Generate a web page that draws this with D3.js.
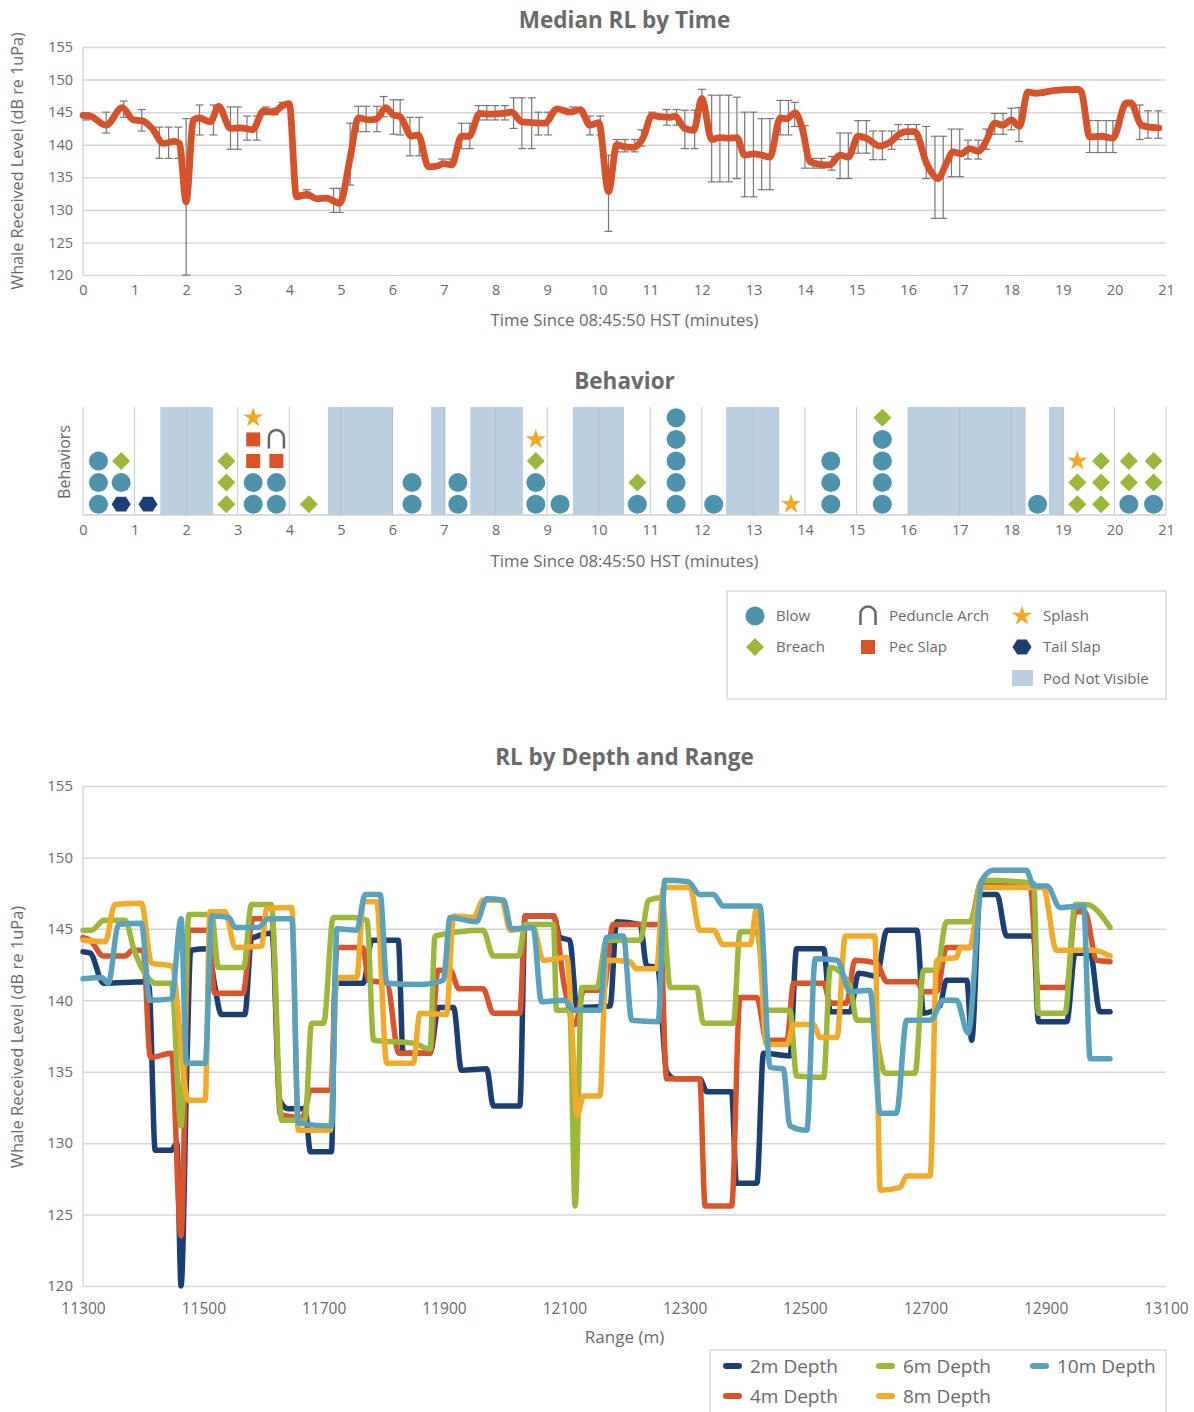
<!DOCTYPE html>
<html>
<head>
<meta charset="utf-8">
<script src="https://cdn.jsdelivr.net/npm/d3@7"></script>
<style>
  body { margin: 0; background: #fff; }
  text { font-family: "Open Sans", sans-serif; fill: #6a6a6a; }
</style>
</head>
<body>
<div id="wrapper"></div>
<script>
// ---- Median RL by Time: [minutes, dB] ----
const medianRL = [
  [0,144.5],[0.14,144.4],[0.45,143.0],[0.76,145.7],[0.98,143.8],[1.14,143.7],[1.34,142.5],[1.56,140.2],
  [1.77,140.5],[1.87,140.2],[2.0,131.2],[2.14,143.8],[2.26,144.1],[2.47,143.5],[2.63,145.9],[2.86,142.5],
  [3.05,142.6],[3.29,142.3],[3.5,145.2],[3.7,145.0],[3.87,146.0],[4.0,146.3],[4.14,132.0],[4.34,132.4],
  [4.53,131.7],[4.72,131.8],[4.98,131.0],[5.18,138.0],[5.34,144.1],[5.57,143.8],[5.7,144.0],[5.87,145.7],
  [6.01,144.6],[6.15,144.3],[6.37,141.3],[6.5,141.5],[6.7,136.6],[6.86,136.7],[6.99,137.1],[7.15,136.9],
  [7.34,141.3],[7.49,141.3],[7.69,144.8],[7.9,144.7],[8.15,144.8],[8.31,145.0],[8.51,143.5],[8.7,143.4],
  [8.96,143.3],[9.19,145.5],[9.45,145.0],[9.64,145.4],[9.83,143.0],[10.0,143.4],[10.19,132.8],[10.35,140.0],
  [10.48,139.7],[10.67,139.6],[10.87,141.2],[11.03,144.5],[11.19,144.3],[11.38,144.2],[11.48,144.4],[11.67,142.5],
  [11.84,142.2],[12.0,147.1],[12.19,140.8],[12.35,141.1],[12.52,141.0],[12.68,141.1],[12.83,138.4],[13.0,138.6],
  [13.16,138.4],[13.32,138.1],[13.52,144.1],[13.64,144.0],[13.81,144.9],[13.94,142.7],[14.1,137.4],[14.29,137.0],
  [14.48,136.9],[14.68,138.4],[14.84,138.1],[15.03,141.3],[15.19,141.0],[15.45,139.8],[15.65,140.4],[15.84,141.7],
  [15.97,142.0],[16.13,142.0],[16.36,137.1],[16.58,134.8],[16.74,137.1],[16.87,138.9],[17.03,138.6],[17.19,139.4],
  [17.36,139.0],[17.52,140.7],[17.68,143.3],[17.84,143.0],[18.0,143.8],[18.16,142.8],[18.32,148.1],[18.48,147.9],
  [18.81,148.3],[19.29,148.5],[19.36,148.1],[19.52,141.2],[19.74,141.3],[19.97,141.0],[20.23,146.4],[20.32,146.4],
  [20.52,143.0],[20.68,142.7],[20.86,142.6]
];

// error bars: [minutes, low, high]
const medianErr = [
  [0.06,143.8,144.9],[0.45,141.8,145.0],[0.79,144.2,146.7],[1.14,142.1,145.4],[1.48,137.9,142.7],[1.66,137.9,142.7],
  [1.85,137.9,142.7],[2.0,120,144.0],[2.26,141.5,146.1],[2.53,141.5,146.1],[2.86,139.3,145.8],[3.0,139.3,145.8],
  [3.18,140.7,144.4],[3.37,140.7,144.4],[3.55,144.6,145.8],[3.72,144.6,145.6],[3.87,145.8,146.5],[4.2,131.8,132.6],
  [4.34,131.8,133.1],[4.86,129.6,133.3],[4.98,129.6,133.3],[5.18,133.8,143.3],[5.34,142.0,145.9],[5.49,142.0,145.9],
  [5.7,142.0,145.9],[5.83,144.3,147.4],[6.02,141.6,146.9],[6.15,141.5,146.9],[6.34,138.3,144.2],[6.52,138.3,144.2],
  [6.96,136.8,137.8],[7.12,136.8,137.8],[7.34,139.4,143.3],[7.5,139.4,143.3],[7.67,143.8,146.0],[7.83,143.8,146.0],
  [7.99,143.8,146.0],[8.18,143.8,146.0],[8.35,142.5,147.2],[8.51,139.4,147.2],[8.7,139.4,147.2],[8.83,141.5,145.0],
  [9.02,141.5,145.0],[9.5,144.8,145.8],[9.83,141.5,144.4],[10.03,141.5,144.4],[10.19,126.7,138.4],[10.35,138.9,140.8],
  [10.51,138.9,140.8],[10.7,138.9,140.8],[10.83,139.8,142.3],[11.03,144.1,145.0],[11.32,143.0,145.4],[11.51,143.0,145.4],
  [11.67,139.4,145.3],[11.86,139.4,145.3],[12.0,146.8,148.5],[12.19,134.3,147.6],[12.35,134.3,147.6],[12.52,134.3,147.6],
  [12.68,134.8,147.3],[12.83,132.0,145.0],[13.0,132.0,145.0],[13.16,133.1,144.0],[13.32,133.1,144.0],[13.52,141.5,146.8],
  [13.68,141.5,146.8],[13.8,142.8,146.5],[14.0,136.4,142.9],[14.16,136.4,137.9],[14.32,136.4,137.9],[14.52,136.1,138.2],
  [14.68,134.8,141.8],[14.84,134.8,141.8],[15.03,138.7,143.7],[15.19,138.7,143.7],[15.32,137.7,142.1],[15.5,137.7,142.1],
  [15.68,139.3,142.1],[15.81,140.8,143.1],[16.0,140.8,143.1],[16.16,140.8,143.1],[16.35,134.8,142.8],[16.52,128.7,141.3],
  [16.68,128.7,141.3],[16.84,135.1,142.4],[17.0,135.1,142.4],[17.16,137.8,140.7],[17.36,137.8,140.7],[17.52,139.3,142.4],
  [17.68,141.6,144.8],[17.84,141.6,144.8],[18.0,142.3,145.6],[18.15,140.5,145.7],[19.52,138.8,143.7],[19.68,138.8,143.7],
  [19.84,138.8,143.7],[19.97,138.8,143.7],[20.23,146.0,146.6],[20.49,140.8,146.1],[20.65,141.0,145.2],[20.85,141.0,145.2]
];

// ---- Behavior ----
// pod not visible: [start, end] minutes
const podHidden = [[1.5,2.52],[4.75,6.01],[6.75,7.03],[7.51,8.53],[9.5,10.49],[12.47,13.5],[16.0,18.28],[18.73,19.02]];
// behaviour events: [minutes, stack row, type]
const behaviorEvents = [
  [0.30,1,"blow"],[0.30,2,"blow"],[0.30,3,"blow"],
  [0.74,1,"tail"],[0.74,2,"blow"],[0.74,3,"breach"],
  [1.26,1,"tail"],
  [2.78,1,"breach"],[2.78,2,"breach"],[2.78,3,"breach"],
  [3.30,1,"blow"],[3.30,2,"blow"],[3.30,3,"pec"],[3.30,4,"pec"],[3.30,5,"splash"],
  [3.75,1,"blow"],[3.75,2,"blow"],[3.75,3,"pec"],[3.75,4,"arch"],
  [4.38,1,"breach"],
  [6.38,1,"blow"],[6.38,2,"blow"],
  [7.27,1,"blow"],[7.27,2,"blow"],
  [8.78,1,"blow"],[8.78,2,"blow"],[8.78,3,"breach"],[8.78,4,"splash"],
  [9.25,1,"blow"],
  [10.75,1,"blow"],[10.75,2,"breach"],
  [11.50,1,"blow"],[11.50,2,"blow"],[11.50,3,"blow"],[11.50,4,"blow"],[11.50,5,"blow"],
  [12.23,1,"blow"],
  [13.73,1,"splash"],
  [14.50,1,"blow"],[14.50,2,"blow"],[14.50,3,"blow"],
  [15.50,1,"blow"],[15.50,2,"blow"],[15.50,3,"blow"],[15.50,4,"blow"],[15.50,5,"breach"],
  [18.51,1,"blow"],
  [19.28,1,"breach"],[19.28,2,"breach"],[19.28,3,"splash"],
  [19.74,1,"breach"],[19.74,2,"breach"],[19.74,3,"breach"],
  [20.28,1,"blow"],[20.28,2,"breach"],[20.28,3,"breach"],
  [20.76,1,"blow"],[20.76,2,"breach"],[20.76,3,"breach"]
];

// ---- RL by Depth and Range: [range m, dB] ----
const depth2m = [
  [11300,143.4],[11312,143.3],[11334,141.2],[11403,141.3],[11410,140.9],[11420,129.5],[11447,129.5],[11456,130.0],
  [11463,120.0],[11473,136],[11479,143.5],[11508,143.6],[11519,141.0],[11530,139.0],[11569,139.0],[11580,144.3],
  [11614,144.7],[11627,133.0],[11641,132.4],[11669,132.4],[11678,129.4],[11713,129.4],[11719,141.2],[11766,141.2],
  [11780,144.2],[11824,144.2],[11832,136.3],[11877,136.3],[11891,139.5],[11916,139.5],[11929,135.1],[11971,135.2],
  [11982,132.6],[12026,132.6],[12035,145.9],[12082,145.9],[12093,144.4],[12109,144.2],[12121,139.5],[12176,139.6],
  [12187,145.5],[12226,145.3],[12237,142.4],[12255,142.3],[12270,135.0],[12284,134.5],[12325,134.5],[12337,133.6],
  [12378,133.6],[12386,127.2],[12420,127.2],[12431,136.3],[12475,136.1],[12486,143.6],[12531,143.6],[12542,139.2],
  [12575,139.2],[12589,141.9],[12619,141.7],[12636,144.9],[12686,144.9],[12697,139.1],[12724,139.6],[12735,141.4],
  [12769,141.4],[12777,137.2],[12791,147.4],[12819,147.4],[12835,144.5],[12880,144.5],[12888,138.5],[12935,138.5],
  [12949,143.3],[12974,143.3],[12990,139.2],[13007,139.2]
];
const depth4m = [
  [11300,144.4],[11312,144.2],[11334,143.1],[11370,143.1],[11382,143.5],[11400,143.5],[11412,136.0],[11447,136.3],
  [11463,123.5],[11476,144.9],[11508,144.9],[11519,140.5],[11566,140.5],[11582,145.7],[11614,145.7],[11628,132.0],
  [11665,131.8],[11678,133.7],[11712,133.7],[11722,143.7],[11765,143.7],[11775,141.4],[11805,141.2],[11825,136.3],
  [11877,136.3],[11890,142.1],[11910,142.1],[11925,140.8],[11965,140.8],[11982,139.1],[12026,139.1],[12035,145.9],
  [12082,145.9],[12100,141.0],[12118,138.3],[12132,140.7],[12165,140.7],[12181,145.3],[12259,145.3],[12270,134.5],
  [12325,134.5],[12334,125.6],[12378,125.6],[12392,140.2],[12420,140.2],[12436,137.2],[12470,137.2],[12481,141.2],
  [12531,141.2],[12542,139.8],[12569,139.8],[12583,142.8],[12619,142.6],[12636,141.3],[12686,141.3],[12697,140.6],
  [12719,140.6],[12735,143.7],[12774,143.7],[12794,148.1],[12874,148.1],[12888,140.9],[12935,140.9],[12949,146.2],
  [12965,146.2],[12985,142.8],[13007,142.7]
];
const depth6m = [
  [11300,144.9],[11314,144.9],[11335,145.6],[11370,145.6],[11385,143.5],[11410,141.5],[11420,141.2],[11447,141.2],
  [11463,131.2],[11476,146.0],[11514,146.0],[11525,142.3],[11567,142.3],[11580,146.7],[11613,146.7],[11630,131.6],
  [11669,131.6],[11680,138.4],[11700,138.4],[11716,145.8],[11749,145.8],[11772,145.6],[11783,137.2],[11849,137.0],
  [11877,136.6],[11885,144.5],[11965,144.9],[11982,143.1],[12024,143.1],[12035,145.3],[12082,145.3],[12087,139.3],
  [12109,139.3],[12118,125.6],[12129,140.9],[12154,140.9],[12170,144.2],[12226,144.2],[12240,147.0],[12262,147.2],
  [12276,140.9],[12320,140.9],[12331,138.4],[12381,138.4],[12392,144.8],[12420,144.8],[12436,139.3],[12475,139.3],
  [12486,134.7],[12531,134.6],[12542,142.3],[12575,141.0],[12586,138.6],[12611,138.6],[12633,134.9],[12683,134.9],
  [12697,142.1],[12719,142.1],[12735,145.5],[12774,145.5],[12794,148.4],[12880,148.2],[12888,139.1],[12932,139.1],
  [12949,146.7],[12968,146.7],[13007,145.1]
];
const depth8m = [
  [11300,144.2],[11337,144.1],[11353,146.7],[11397,146.8],[11414,142.6],[11447,142.4],[11475,133.0],[11503,133.0],
  [11511,146.2],[11536,146.2],[11553,143.7],[11597,143.8],[11605,146.4],[11647,146.5],[11658,130.9],[11711,130.9],
  [11722,141.6],[11755,141.6],[11766,146.9],[11788,146.9],[11805,135.6],[11849,135.6],[11860,139.1],[11904,139.0],
  [11916,145.9],[11949,145.8],[11965,147.0],[11996,147.0],[12010,144.9],[12048,145.1],[12065,142.8],[12104,143.0],
  [12115,136],[12121,131.9],[12132,133.3],[12159,133.3],[12170,142.8],[12209,142.7],[12220,142.2],[12253,142.2],
  [12265,147.9],[12309,147.9],[12325,144.9],[12348,144.9],[12364,143.9],[12409,143.9],[12420,146.5],[12436,136.9],
  [12470,136.9],[12481,138.3],[12514,138.3],[12525,137.4],[12553,137.4],[12567,144.5],[12616,144.5],[12625,126.7],
  [12658,126.9],[12669,127.7],[12708,127.7],[12719,142.8],[12752,143.0],[12758,143.7],[12774,143.7],[12794,147.9],
  [12896,147.9],[12918,143.5],[12979,143.5],[13007,143.1]
];
const depth10m = [
  [11300,141.5],[11331,141.6],[11342,141.2],[11359,145.3],[11397,145.4],[11411,140.0],[11447,140.1],[11463,145.7],
  [11472,135.6],[11503,135.6],[11514,145.9],[11542,145.8],[11553,145.1],[11591,145.1],[11608,145.7],[11647,145.7],
  [11658,131.4],[11713,131.2],[11722,145.0],[11755,144.9],[11769,147.4],[11794,147.4],[11805,141.2],[11860,141.1],
  [11899,141.4],[11910,145.8],[11954,145.5],[11971,147.1],[11999,147.0],[12012,145.0],[12048,145.1],[12062,139.9],
  [12101,140.0],[12115,139.3],[12159,139.3],[12170,144.4],[12198,144.5],[12212,138.6],[12256,138.5],[12267,148.4],
  [12306,148.3],[12325,147.4],[12348,147.4],[12364,146.6],[12425,146.6],[12442,135.3],[12464,135.2],[12475,131.2],
  [12503,130.9],[12517,142.9],[12553,142.8],[12575,140.6],[12608,140.7],[12625,132.1],[12652,132.1],[12669,138.6],
  [12708,138.6],[12730,140.0],[12752,140.0],[12771,137.7],[12794,148.4],[12813,149.1],[12868,149.1],[12880,148.0],
  [12902,148.0],[12924,146.5],[12963,146.6],[12974,135.9],[13007,135.9]
];
const depthNames = ["2m Depth", "4m Depth", "6m Depth", "8m Depth", "10m Depth"];
const depthSeries = [depth2m, depth4m, depth6m, depth8m, depth10m];

// tick values
const rlTicks = [120, 125, 130, 135, 140, 145, 150, 155];
const minuteTicks = d3.range(0, 22);
const rangeTicks = [11300, 11500, 11700, 11900, 12100, 12300, 12500, 12700, 12900, 13100];

// styling
const depthColors = ["#1c3f73", "#d9542a", "#9cb83b", "#f0ab2b", "#5aa2bb"];
const behaviorColors = { blow: "#4e93ab", breach: "#9cb83b", pec: "#dc5227", splash: "#f2a92a", tail: "#1c3f73", arch: "#666", pod: "#bccfe0" };

function drawCharts() {
  const width = 1194, height = 1412;
  const left = 83, right = 1166;
  const svg = d3.select("#wrapper").append("svg")
    .attr("width", width).attr("height", height);

  const gridColor = "#d6d6d6";

  // helper: horizontal grid + left labels
  function yGrid(scale, ticks, size) {
    svg.append("g")
      .attr("transform", `translate(${left},0)`)
      .call(d3.axisLeft(scale).tickValues(ticks).tickSize(-(right - left)).tickPadding(10))
      .call(g => g.select(".domain").remove())
      .call(g => g.selectAll(".tick line").attr("stroke", gridColor).attr("stroke-width", 1.5))
      .call(g => g.selectAll(".tick text").style("font-size", size));
    svg.append("line")
      .attr("x1", left).attr("x2", left)
      .attr("y1", scale.range()[0]).attr("y2", scale.range()[1])
      .attr("stroke", gridColor).attr("stroke-width", 1.5);
  }
  function xLabels(scale, ticks, y, pad, size) {
    svg.append("g")
      .attr("transform", `translate(0,${y})`)
      .call(d3.axisBottom(scale).tickValues(ticks).tickSize(0).tickPadding(pad).tickFormat(d3.format("d")))
      .call(g => g.select(".domain").remove())
      .call(g => g.selectAll(".tick text").style("font-size", size));
  }
  function title(txt, y) {
    svg.append("text").attr("x", (left + right) / 2).attr("y", y)
      .attr("text-anchor", "middle").style("font-size", "22.5px").style("font-weight", "bold")
      .text(txt);
  }
  function axisTitle(txt, x, y, rotate, size) {
    svg.append("text")
      .attr("transform", `translate(${x},${y})` + (rotate ? " rotate(-90)" : ""))
      .attr("text-anchor", "middle").style("font-size", size)
      .text(txt);
  }

  // ===== Chart 1: Median RL by Time =====
  const xTime = d3.scaleLinear().domain([0, 21]).range([left, right]);
  const yTop = d3.scaleLinear().domain([120, 155]).range([275, 47]);

  title("Median RL by Time", 28);
  yGrid(yTop, rlTicks, "14.5px");
  xLabels(xTime, minuteTicks, 275, 10, "14.5px");
  axisTitle("Time Since 08:45:50 HST (minutes)", (left + right) / 2, 326, false, "16.8px");
  axisTitle("Whale Received Level (dB re 1uPa)", 23, 161, true, "16.2px");

  const errG = svg.append("g").attr("stroke", "#777").attr("stroke-width", 1.2);
  errG.selectAll("g").data(medianErr).join("g")
    .each(function(d) {
      const g = d3.select(this), x = xTime(d[0]);
      g.append("line").attr("x1", x).attr("x2", x).attr("y1", yTop(d[1])).attr("y2", yTop(d[2]));
      g.append("line").attr("x1", x - 4).attr("x2", x + 4).attr("y1", yTop(d[1])).attr("y2", yTop(d[1]));
      g.append("line").attr("x1", x - 4).attr("x2", x + 4).attr("y1", yTop(d[2])).attr("y2", yTop(d[2]));
    });

  svg.append("path")
    .datum(medianRL)
    .attr("fill", "none")
    .attr("stroke", "#d5532a")
    .attr("stroke-width", 6.8)
    .attr("stroke-linejoin", "round")
    .attr("stroke-linecap", "round")
    .attr("d", d3.line().x(d => xTime(d[0])).y(d => yTop(d[1])).curve(d3.curveMonotoneX));

  // ===== Chart 2: Behavior =====
  const yBeh = d3.scaleLinear().domain([0, 5]).range([515, 407]);
  title("Behavior", 389);

  svg.append("g").selectAll("rect").data(podHidden).join("rect")
    .attr("x", d => xTime(d[0]))
    .attr("width", d => xTime(d[1]) - xTime(d[0]))
    .attr("y", yBeh(5)).attr("height", yBeh(0) - yBeh(5))
    .attr("fill", behaviorColors.pod);

  svg.append("g").selectAll("line").data(minuteTicks).join("line")
    .attr("x1", d => xTime(d)).attr("x2", d => xTime(d))
    .attr("y1", yBeh(5)).attr("y2", yBeh(0))
    .attr("stroke", "#a9b3bd").attr("stroke-opacity", 0.7).attr("stroke-width", 1);
  svg.append("line").attr("x1", left).attr("x2", right)
    .attr("y1", yBeh(0)).attr("y2", yBeh(0))
    .attr("stroke", "#cfcfcf").attr("stroke-width", 1.5);

  xLabels(xTime, minuteTicks, 515, 10, "14.5px");
  axisTitle("Time Since 08:45:50 HST (minutes)", (left + right) / 2, 567, false, "16.8px");
  axisTitle("Behaviors", 70, 462, true, "16px");

  const star = d3.symbol().type(d3.symbolStar).size(125)();
  const hexR = 9.5;
  const hex = "M" + d3.range(6).map(i => {
    const a = i * Math.PI / 3;
    return [hexR * Math.cos(a), hexR * 0.9 * Math.sin(a)].join(",");
  }).join("L") + "Z";

  function drawMarker(g, type) {
    if (type === "blow") g.append("circle").attr("r", 9.5).attr("fill", behaviorColors.blow);
    else if (type === "breach") g.append("path").attr("d", "M0,-9L9,0L0,9L-9,0Z").attr("fill", behaviorColors.breach);
    else if (type === "pec") g.append("rect").attr("x", -7).attr("y", -7).attr("width", 14).attr("height", 14).attr("fill", behaviorColors.pec);
    else if (type === "splash") g.append("path").attr("d", star).attr("fill", behaviorColors.splash);
    else if (type === "tail") g.append("path").attr("d", hex).attr("fill", behaviorColors.tail);
    else if (type === "arch") g.append("path").attr("d", "M-7.5,9V-2A7.5,7.5 0 0 1 7.5,-2V9")
      .attr("fill", "none").attr("stroke", behaviorColors.arch).attr("stroke-width", 2.5);
  }

  svg.append("g").selectAll("g").data(behaviorEvents).join("g")
    .attr("transform", d => `translate(${xTime(d[0])},${yBeh(d[1] - 0.5)})`)
    .each(function(d) { drawMarker(d3.select(this), d[2]); });

  // behavior legend
  const bl = svg.append("g");
  bl.append("rect").attr("x", 727).attr("y", 591).attr("width", 439).attr("height", 108)
    .attr("fill", "#fff").attr("stroke", "#cfcfcf").attr("stroke-width", 1.2);
  const behLegend = [
    ["blow", "Blow", 755, 616], ["breach", "Breach", 755, 647],
    ["arch", "Peduncle Arch", 868, 616], ["pec", "Pec Slap", 868, 647],
    ["splash", "Splash", 1022, 616], ["tail", "Tail Slap", 1022, 647]
  ];
  behLegend.forEach(([type, label, x, y]) => {
    drawMarker(bl.append("g").attr("transform", `translate(${x},${y})`), type);
    bl.append("text").attr("x", x + 21).attr("y", y + 5).style("font-size", "15px").text(label);
  });
  bl.append("rect").attr("x", 1012).attr("y", 670).attr("width", 21).attr("height", 16).attr("fill", behaviorColors.pod);
  bl.append("text").attr("x", 1043).attr("y", 684).style("font-size", "15px").text("Pod Not Visible");

  // ===== Chart 3: RL by Depth and Range =====
  const xRange = d3.scaleLinear().domain([11300, 13100]).range([left, right]);
  const yBot = d3.scaleLinear().domain([120, 155]).range([1286, 786]);

  title("RL by Depth and Range", 765);
  yGrid(yBot, rlTicks, "15px");
  xLabels(xRange, rangeTicks, 1286, 17, "15.5px");
  axisTitle("Range (m)", (left + right) / 2, 1343, false, "17px");
  axisTitle("Whale Received Level (dB re 1uPa)", 23, 1037, true, "16.5px");

  const depthLine = d3.line().x(d => xRange(d[0])).y(d => yBot(d[1])).curve(d3.curveMonotoneX);
  svg.append("g").selectAll("path").data(depthSeries).join("path")
    .attr("fill", "none")
    .attr("stroke", (d, i) => depthColors[i])
    .attr("stroke-width", 5.5)
    .attr("stroke-linejoin", "round")
    .attr("stroke-linecap", "round")
    .attr("d", depthLine);

  // depth legend
  const dl = svg.append("g");
  dl.append("rect").attr("x", 710).attr("y", 1350).attr("width", 456).attr("height", 80)
    .attr("fill", "#fff").attr("stroke", "#cfcfcf").attr("stroke-width", 1.2);
  const legendPos = [[726, 1366], [726, 1396], [879, 1366], [879, 1396], [1033, 1366]];
  depthNames.forEach((name, i) => {
    const [x, y] = legendPos[i];
    dl.append("line").attr("x1", x).attr("x2", x + 13).attr("y1", y).attr("y2", y)
      .attr("stroke", depthColors[i]).attr("stroke-width", 6).attr("stroke-linecap", "round");
    dl.append("text").attr("x", x + 24).attr("y", y + 7).style("font-size", "19px").text(name);
  });
}

drawCharts();
</script>
</body>
</html>
